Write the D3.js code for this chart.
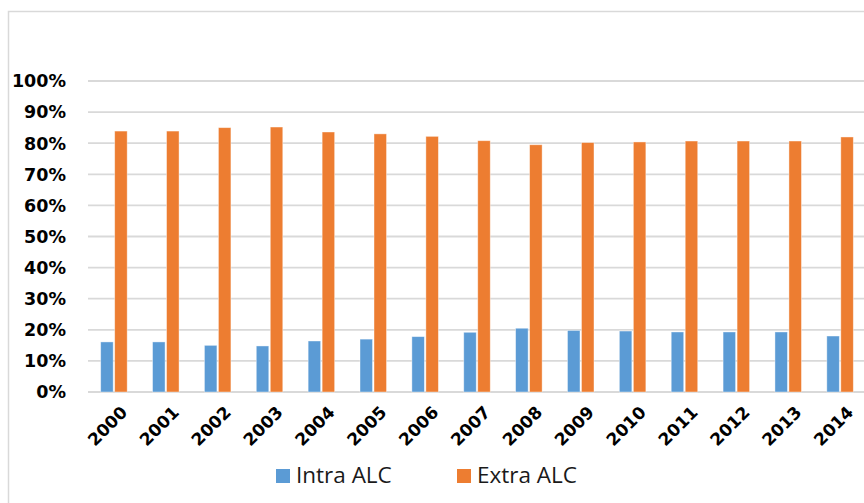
<!DOCTYPE html>
<html>
<head>
<meta charset="utf-8">
<script src="https://cdn.jsdelivr.net/npm/d3@7"></script>
<style>
  body { margin: 0; background: #fff; }
  svg { display: block; }
</style>
</head>
<body>
<div id="chart"></div>
<script>
// Share of trade
const years = ["2000","2001","2002","2003","2004","2005","2006","2007","2008","2009","2010","2011","2012","2013","2014"];
const intraALC = [16.1, 16.1, 15.0, 14.8, 16.4, 17.0, 17.8, 19.2, 20.5, 19.8, 19.6, 19.3, 19.3, 19.3, 18.0];
const extraALC = [83.9, 83.9, 85.0, 85.2, 83.6, 83.0, 82.2, 80.8, 79.5, 80.2, 80.4, 80.7, 80.7, 80.7, 82.0];
const yTicks = [0, 10, 20, 30, 40, 50, 60, 70, 80, 90, 100];
const seriesNames = ["Intra ALC", "Extra ALC"];
const seriesColors = ["#5b9bd5", "#ed7d31"];

const width = 864, height = 503;
const plot = { left: 88, right: 866, top: 81, bottom: 392 };

const svg = d3.select("#chart").append("svg")
  .attr("width", width)
  .attr("height", height);

// outer chart frame (runs off the right and bottom edge)
svg.append("rect")
  .attr("x", 8.5).attr("y", 11.5)
  .attr("width", 900).attr("height", 600)
  .attr("fill", "none")
  .attr("stroke", "#d9d9d9")
  .attr("stroke-width", 1.5);

const x = d3.scaleBand().domain(years).range([plot.left, plot.right]);
const y = d3.scaleLinear().domain([0, 100]).range([plot.bottom, plot.top]);

// gridlines
svg.append("g")
  .selectAll("line")
  .data(yTicks)
  .enter()
  .append("line")
  .attr("x1", plot.left).attr("x2", plot.right)
  .attr("y1", d => y(d)).attr("y2", d => y(d))
  .attr("stroke", "#d9d9d9")
  .attr("stroke-width", 1.8);

// y labels
svg.append("g")
  .selectAll("text")
  .data(yTicks)
  .enter()
  .append("text")
  .attr("x", 66)
  .attr("y", d => y(d))
  .attr("dy", "0.36em")
  .attr("text-anchor", "end")
  .attr("font-family", "DejaVu Sans, sans-serif")
  .attr("font-weight", "bold")
  .attr("font-size", 17.5)
  .attr("fill", "#000")
  .text(d => d + "%");

// bars
const barW = 12.5, gap = 1.5;
const series = [intraALC, extraALC];
series.forEach((vals, i) => {
  svg.append("g")
    .selectAll("rect")
    .data(vals)
    .enter()
    .append("rect")
    .attr("x", (d, j) => x(years[j]) + x.bandwidth() / 2 + (i === 0 ? -(barW + gap / 2) : gap / 2))
    .attr("y", d => y(d))
    .attr("width", barW)
    .attr("height", d => y(0) - y(d))
    .attr("fill", seriesColors[i])
    .attr("stroke", "#fff")
    .attr("stroke-opacity", 0.5)
    .attr("stroke-width", 0.8);
});

// x labels, rotated
svg.append("g")
  .selectAll("text")
  .data(years)
  .enter()
  .append("text")
  .attr("transform", d => `translate(${x(d) + x.bandwidth() / 2 + 6},${plot.bottom + 13}) rotate(-45)`)
  .attr("text-anchor", "end")
  .attr("dy", "0.7em")
  .attr("font-family", "DejaVu Sans, sans-serif")
  .attr("font-weight", "bold")
  .attr("font-size", 17)
  .attr("fill", "#000")
  .text(d => d);

// legend
const legendX = [276, 457];
const legend = svg.append("g");
seriesNames.forEach((name, i) => {
  legend.append("rect")
    .attr("x", legendX[i]).attr("y", 469)
    .attr("width", 14).attr("height", 14)
    .attr("fill", seriesColors[i]);
  legend.append("text")
    .attr("x", legendX[i] + 20).attr("y", 483)
    .attr("font-family", "Open Sans, sans-serif")
    .attr("font-size", 22.5)
    .attr("fill", "#1a1a1a")
    .text(name);
});
</script>
</body>
</html>
